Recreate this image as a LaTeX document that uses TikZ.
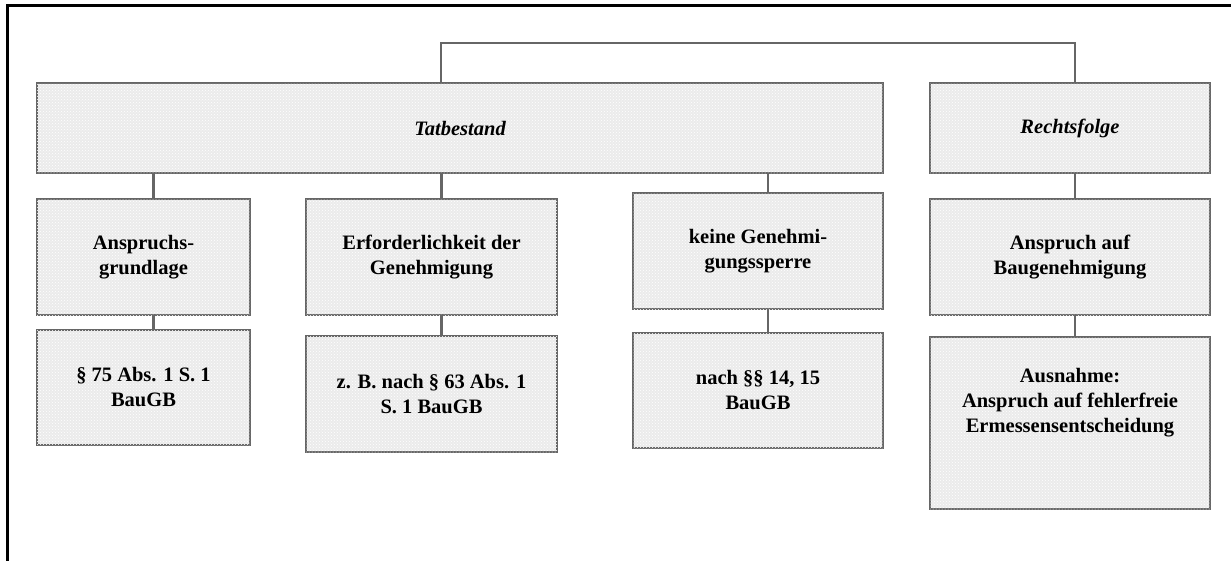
\documentclass[tikz,border=0pt]{standalone}
\usepackage{fontspec}
\setmainfont{Liberation Serif}
\usetikzlibrary{patterns}
\begin{document}
\begin{tikzpicture}[x=1pt,y=-1pt,
  box/.style={draw=black!60, line width=2.8pt, fill=black!8,
    postaction={pattern=crosshatch dots, pattern color=white},
    anchor=north west, inner sep=0pt, outer sep=0pt},
  txt/.style={align=center, font=\fontsize{20.5}{25}\selectfont\bfseries, text=black},
  conn/.style={draw=black!60, line width=2.8pt}]
\useasboundingbox (0,0) rectangle (1231,560);
% outer frame (only its left and top edges lie inside the page)
\draw[line width=3pt, line cap=rect] (7,565) -- (7,5) -- (1240,5);

% upper row
\node[box, minimum width=846pt, minimum height=90pt] (T) at (37,83) {};
\node[box, minimum width=280pt, minimum height=90pt] (R) at (930,83) {};
\node[txt, font=\fontsize{20.5}{25}\selectfont\bfseries\itshape] (Tt) at (T.center) {Tatbestand};
\node[txt, font=\fontsize{20.5}{25}\selectfont\bfseries\itshape] (Rt) at (R.center) {Rechtsfolge};

% middle row
\node[box, minimum width=213pt, minimum height=116pt] (A1) at (37,199) {};
\node[box, minimum width=251pt, minimum height=116pt] (A2) at (306,199) {};
\node[box, minimum width=250pt, minimum height=116pt] (A3) at (633,193) {};
\node[box, minimum width=280pt, minimum height=116pt] (A4) at (930,199) {};
\node[txt] (A1t) at (A1.center) {Anspruchs-\\grundlage};
\node[txt] (A2t) at (A2.center) {Erforderlichkeit der\\Genehmigung};
\node[txt] (A3t) at (A3.center) {keine Genehmi-\\gungssperre};
\node[txt] (A4t) at (A4.center) {Anspruch auf\\Baugenehmigung};

% lower row
\node[box, minimum width=213pt, minimum height=115pt] (B1) at (37,330) {};
\node[box, minimum width=251pt, minimum height=116pt] (B2) at (306,336) {};
\node[box, minimum width=250pt, minimum height=115pt] (B3) at (633,333) {};
\node[box, minimum width=280pt, minimum height=172pt] (B4) at (930,337) {};
\node[txt] (B1t) at (B1.center) {§ 75 Abs. 1 S. 1\\BauGB};
\node[txt] (B2t) at (B2.center) {z. B. nach § 63 Abs. 1\\S. 1 BauGB};
\node[txt] (B3t) at (B3.center) {nach §§ 14, 15\\BauGB};
\node[txt, anchor=north] (B4t) at ([yshift=-28pt]B4.north) {Ausnahme:\\Anspruch auf fehlerfreie\\Ermessensentscheidung};

% connectors
\coordinate (top) at ([xshift=-19pt, yshift=40pt]T.north);
\draw[conn] ([xshift=-19pt]T.north) -- (top) -| ([xshift=5pt]R.north);
\draw[conn] ([xshift=10pt]A1.north |- T.south) -- ([xshift=10pt]A1.north);
\draw[conn] ([xshift=10pt]A2.north |- T.south) -- ([xshift=10pt]A2.north);
\draw[conn] ([xshift=10pt]A3.north |- T.south) -- ([xshift=10pt]A3.north);
\draw[conn] ([xshift=5pt]A4.north |- R.south) -- ([xshift=5pt]A4.north);
\draw[conn] ([xshift=10pt]A1.south) -- ([xshift=10pt]B1.north);
\draw[conn] ([xshift=10pt]A2.south) -- ([xshift=10pt]B2.north);
\draw[conn] ([xshift=10pt]A3.south) -- ([xshift=10pt]B3.north);
\draw[conn] ([xshift=5pt]A4.south) -- ([xshift=5pt]B4.north);
\end{tikzpicture}
\end{document}
